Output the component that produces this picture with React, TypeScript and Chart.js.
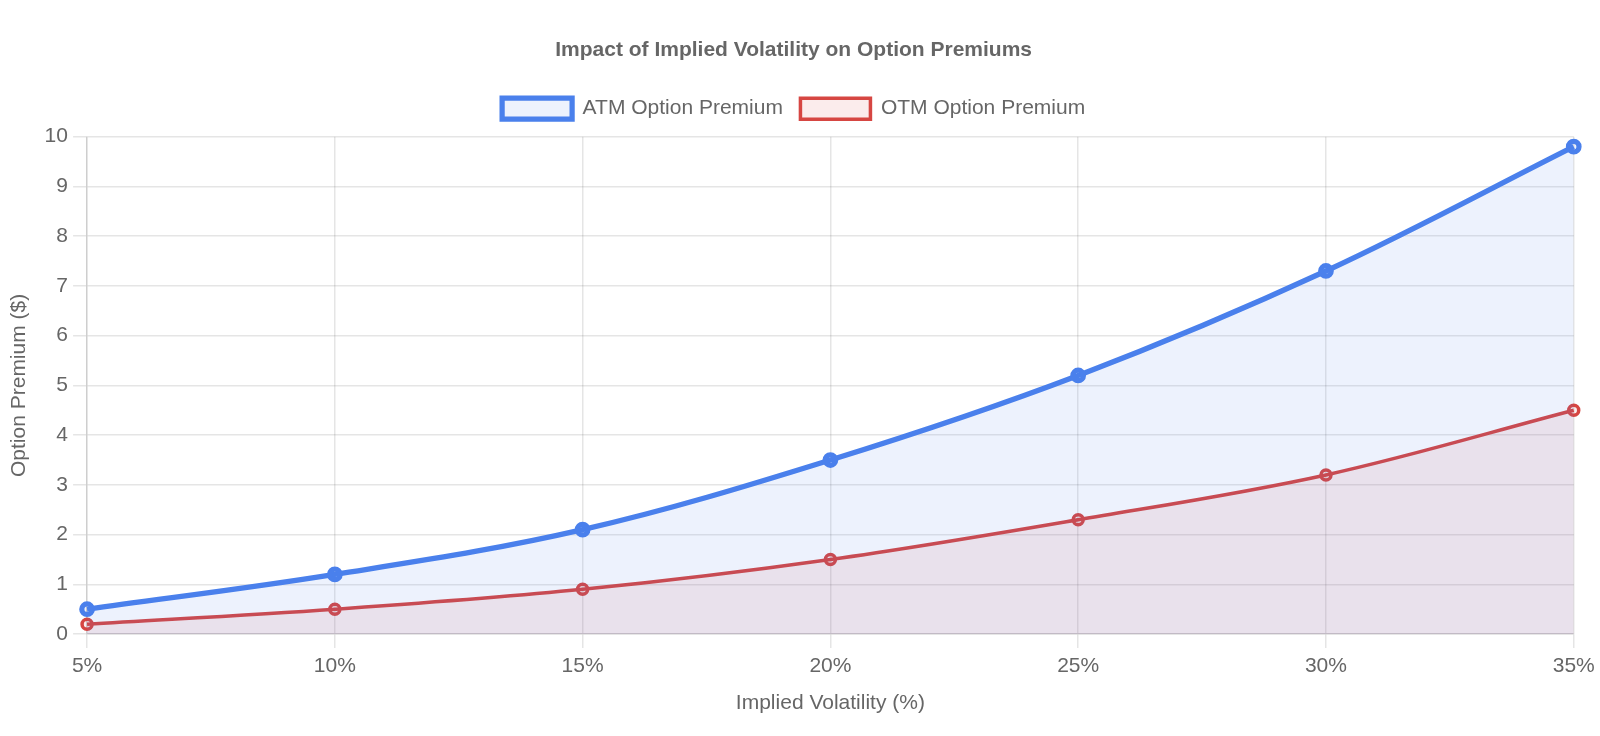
import React, { useEffect, useRef } from "react";
import Chart from "chart.js/auto";

const categories = ["5%", "10%", "15%", "20%", "25%", "30%", "35%"];
const atmPremium = [0.5, 1.2, 2.1, 3.5, 5.2, 7.3, 9.8];
const otmPremium = [0.2, 0.5, 0.9, 1.5, 2.3, 3.2, 4.5];
const seriesLabels = ["ATM Option Premium", "OTM Option Premium"];
const chartTitle = "Impact of Implied Volatility on Option Premiums";
const xTitle = "Implied Volatility (%)";
const yTitle = "Option Premium ($)";

const FONT = "'Helvetica Neue', Helvetica, Arial, 'Liberation Sans', sans-serif";
const BLUE = "rgb(74, 128, 236)";
const BLUE_FILL = "rgba(74, 128, 236, 0.1)";
const RED = "rgb(214, 70, 66)";
const RED_FILL = "rgba(214, 70, 66, 0.1)";

const legendSpacing = {
  id: "legendSpacing",
  beforeInit(chart: any) {
    const legend = chart.legend;
    if (!legend) return;
    const origFit = legend.fit;
    legend.fit = function () {
      origFit.call(this);
      this.height += 7.5;
    };
  },
};

export default function App() {
  const ref = useRef<HTMLCanvasElement | null>(null);

  useEffect(() => {
    if (!ref.current) return;
    const chart = new Chart(ref.current, {
      type: "line",
      data: {
        labels: categories,
        datasets: [
          {
            label: seriesLabels[0],
            data: atmPremium,
            borderColor: BLUE,
            backgroundColor: BLUE_FILL,
            borderWidth: 5.25,
            pointRadius: 5.25,
            pointBorderWidth: 5.25,
            pointBackgroundColor: BLUE_FILL,
            pointBorderColor: BLUE,
            tension: 0.35,
            fill: "origin",
          },
          {
            label: seriesLabels[1],
            data: otmPremium,
            borderColor: RED,
            backgroundColor: RED_FILL,
            borderWidth: 3.5,
            pointRadius: 5,
            pointBorderWidth: 3.5,
            pointBackgroundColor: RED_FILL,
            pointBorderColor: RED,
            tension: 0.35,
            fill: "origin",
          },
        ],
      },
      options: {
        animation: false,
        responsive: true,
        maintainAspectRatio: false,
        devicePixelRatio: 1,
        color: "#666",
        font: { family: FONT, size: 21 },
        layout: { padding: { top: 20.5, left: 0, right: 12.75, bottom: 13 } },
        plugins: {
          title: {
            display: true,
            text: chartTitle,
            color: "#666",
            font: { family: FONT, size: 21, weight: "bold" },
            padding: { top: 17.5, bottom: 17.5 },
          },
          legend: {
            display: true,
            position: "top",
            labels: {
              color: "#666",
              font: { family: FONT, size: 21 },
              boxWidth: 70,
              boxHeight: 21,
              padding: 17.5,
            },
          },
          tooltip: { enabled: false },
        },
        scales: {
          x: {
            grid: { color: "rgba(0,0,0,0.1)", lineWidth: 1.5, tickLength: 14 },
            border: { color: "rgba(0,0,0,0.1)", width: 1.5 },
            ticks: { color: "#666", font: { family: FONT, size: 21 }, padding: 5.25 },
            title: {
              display: true,
              text: xTitle,
              color: "#666",
              font: { family: FONT, size: 21 },
              padding: { top: 7, bottom: 7 },
            },
          },
          y: {
            min: 0,
            max: 10,
            grid: { color: "rgba(0,0,0,0.1)", lineWidth: 1.5, tickLength: 14 },
            border: { color: "rgba(0,0,0,0.1)", width: 1.5 },
            ticks: { color: "#666", font: { family: FONT, size: 21 }, padding: 5.25, stepSize: 1 },
            title: {
              display: true,
              text: yTitle,
              color: "#666",
              font: { family: FONT, size: 21 },
              padding: { top: 7, bottom: 7 },
            },
          },
        },
      },
      plugins: [legendSpacing],
    });
    return () => chart.destroy();
  }, []);

  return (
    <div
      style={{
        position: "fixed",
        left: 0,
        top: 0,
        width: "1600px",
        height: "736px",
        background: "#fff",
      }}
    >
      <canvas ref={ref} />
    </div>
  );
}
